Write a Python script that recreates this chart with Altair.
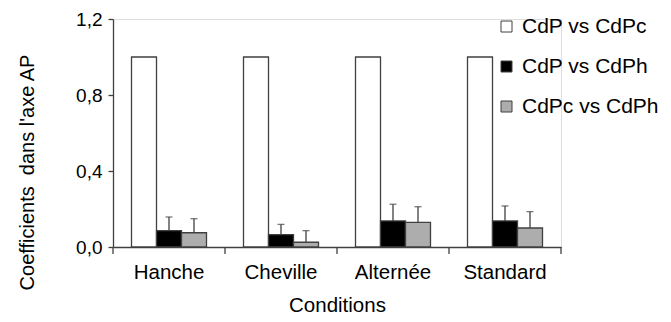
import altair as alt
import pandas as pd

conditions = ["Hanche", "Cheville", "Alternée", "Standard"]
series = ["CdP vs CdPc", "CdP vs CdPh", "CdPc vs CdPh"]
colors = ["#FFFFFF", "#000000", "#ADADAD"]

cdp_cdpc = [1.0, 1.0, 1.0, 1.0]
cdp_cdph = [0.086, 0.065, 0.137, 0.137]
cdp_cdph_err = [0.072, 0.054, 0.088, 0.079]
cdpc_cdph = [0.075, 0.025, 0.130, 0.100]
cdpc_cdph_err = [0.074, 0.061, 0.082, 0.086]

rows = []
for i, c in enumerate(conditions):
    rows.append({"cond": c, "serie": series[0], "val": cdp_cdpc[i], "err": None})
    rows.append({"cond": c, "serie": series[1], "val": cdp_cdph[i], "err": cdp_cdph_err[i]})
    rows.append({"cond": c, "serie": series[2], "val": cdpc_cdph[i], "err": cdpc_cdph_err[i]})
df = pd.DataFrame(rows)
df["top"] = df["val"] + df["err"]
err_df = df.dropna(subset=["err"])
cond_df = pd.DataFrame({"cond": conditions})
last_df = pd.DataFrame({"cond": conditions[-1:]})

FONT = "Liberation Sans"
AX = "#404040"

x_scale = alt.Scale(domain=conditions, paddingInner=0, paddingOuter=0)
off_scale = alt.Scale(domain=series, paddingInner=0, paddingOuter=0.74)
y_scale = alt.Scale(domain=[0, 1.2], nice=False)

bars = alt.Chart(df).mark_bar(stroke=AX, strokeWidth=1.3).encode(
    x=alt.X("cond:N", scale=x_scale, sort=conditions,
            axis=alt.Axis(title="Conditions", ticks=False, labelAngle=0,
                          labelPadding=15, labelFontSize=20.5, titleFontSize=20.5,
                          titleFontWeight="normal", titlePadding=12.5,
                          domainColor=AX, domainWidth=1.3, labelFont=FONT,
                          titleFont=FONT, labelColor="#000", titleColor="#000")),
    xOffset=alt.XOffset("serie:N", scale=off_scale, sort=series),
    y=alt.Y("val:Q", scale=y_scale,
            axis=alt.Axis(title="Coefficients\u00a0 dans l'axe AP", values=[0, 0.4, 0.8, 1.2],
                          labelExpr="replace(format(datum.value, '.1f'), '.', ',')",
                          grid=False, tickSize=5, tickColor=AX, tickWidth=1.3,
                          domainColor=AX, domainWidth=1.3, labelPadding=6,
                          labelFontSize=19, titleFontSize=20, titleFontWeight="normal",
                          labelFont=FONT, titleFont=FONT, labelColor="#000", titleColor="#000",
                          titleAngle=270, titleX=-86, titleY=153, titleAlign="center",
                          titleBaseline="middle")),
    fill=alt.Fill("serie:N", scale=alt.Scale(domain=series, range=colors),
                  legend=alt.Legend(title=None, orient="none", legendX=383, legendY=-3,
                                    symbolType="square", symbolSize=121,
                                    symbolStrokeColor=AX, symbolStrokeWidth=1,
                                    labelFontSize=21, labelFont=FONT, labelColor="#000",
                                    rowPadding=18, labelOffset=5, padding=0)),
)

err_rules = alt.Chart(err_df).mark_rule(color=AX, strokeWidth=1.3).encode(
    x=alt.X("cond:N", scale=x_scale, sort=conditions),
    xOffset=alt.XOffset("serie:N", scale=off_scale, sort=series),
    y=alt.Y("val:Q", scale=y_scale),
    y2="top:Q",
)

caps = alt.Chart(err_df).mark_tick(color=AX, thickness=1.3, size=7, orient="horizontal").encode(
    x=alt.X("cond:N", scale=x_scale, sort=conditions),
    xOffset=alt.XOffset("serie:N", scale=off_scale, sort=series),
    y=alt.Y("top:Q", scale=y_scale),
)

xticks = alt.Chart(cond_df).mark_rule(color=AX, strokeWidth=1.3).encode(
    x=alt.X("cond:N", scale=x_scale, sort=conditions, bandPosition=0),
    y=alt.value(228),
    y2=alt.value(235),
)
xtick_last = alt.Chart(last_df).mark_rule(color=AX, strokeWidth=1.3).encode(
    x=alt.X("cond:N", scale=x_scale, sort=conditions, bandPosition=1),
    y=alt.value(228),
    y2=alt.value(235),
)

chart = alt.layer(bars, err_rules, caps, xticks, xtick_last).properties(
    width=448, height=228,
    autosize=alt.AutoSizeParams(type="none"),
    padding={"left": 105, "top": 11, "right": 102, "bottom": 67},
).configure_view(stroke=None).configure(background="white")

chart.save("out.html", embed_options={"renderer": "svg", "actions": False})
